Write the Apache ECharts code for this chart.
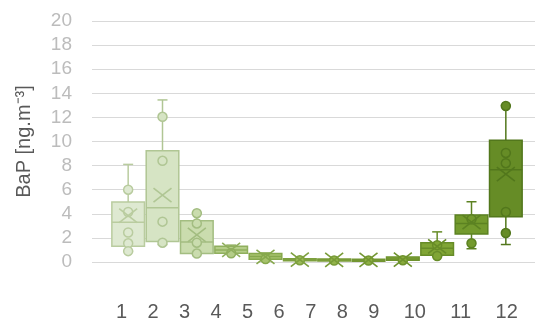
<!DOCTYPE html>
<html>
<head>
<meta charset="utf-8">
<script src="https://cdn.jsdelivr.net/npm/echarts@6/dist/echarts.min.js"></script>
<style>html,body{margin:0;padding:0;background:#fff}#c{width:535px;height:320px}</style>
</head>
<body>
<div id="c"></div>
<script>
const months = ['1','2','3','4','5','6','7','8','9','10','11','12'];
const whiskerLow  = [0.9, 1.45, 0.65, 0.7, 0.2, 0.1, 0.08, 0.08, 0.1, 0.5, 1.1, 1.45];
const q1          = [1.3, 1.7, 0.7, 0.72, 0.22, 0.12, 0.12, 0.1, 0.15, 0.55, 2.32, 3.75];
const median      = [3.3, 4.5, 1.65, 1.0, 0.45, 0.2, 0.18, 0.15, 0.25, 1.15, 3.2, 7.65];
const q3          = [4.98, 9.24, 3.42, 1.3, 0.7, 0.28, 0.25, 0.22, 0.42, 1.6, 3.9, 10.1];
const whiskerHigh = [8.1, 13.45, 4.05, 1.4, 0.75, 0.3, 0.28, 0.25, 0.45, 2.5, 5.0, 13.0];
const means       = [3.85, 5.55, 2.25, 1.0, 0.42, 0.2, 0.18, 0.17, 0.2, 1.3, 3.3, 7.3];
const points = [
  [6.0, 4.15, 2.45, 1.55, 0.9],
  [12.05, 8.4, 3.35, 1.6],
  [4.05, 3.2, 1.6, 0.7],
  [0.72],
  [0.25],
  [0.15],
  [0.12],
  [0.12],
  [0.15],
  [0.5, 1.4],
  [1.55, 3.55],
  [12.95, 9.05, 8.2, 4.15, 2.4]
];
const yTicks = {min: 0, max: 20, interval: 2};

const fills   = ['#dee9d1','#d6e4c4','#cadcae','#b4cd88','#a6c26c','#9bba58','#93b44b','#8daf43','#88ab3c','#80a535','#739a2d','#668c26'];
const borders = ['#b9cc9f','#b0c694','#a3bd81','#90af5e','#86a84c','#7ea03f','#789b37','#739632','#6e922d','#678c28','#5c8222','#52771c'];

function makeBox(k) {
  return function (params, api) {
    const i = api.value(0);
    const lo = api.coord([i, api.value(1)]);
    const a = api.coord([i, api.value(2)]);
    const md = api.coord([i, api.value(3)]);
    const b = api.coord([i, api.value(4)]);
    const hi = api.coord([i, api.value(5)]);
    const bw = api.size([1, 0])[0] * 0.95;
    const cx = lo[0];
    const ls = {stroke: borders[k], lineWidth: 1.5, fill: null};
    return {
      type: 'group',
      children: [
        {type: 'line', shape: {x1: cx, y1: hi[1], x2: cx, y2: b[1]}, style: ls},
        {type: 'line', shape: {x1: cx, y1: a[1], x2: cx, y2: lo[1]}, style: ls},
        {type: 'line', shape: {x1: cx - 5, y1: hi[1], x2: cx + 5, y2: hi[1]}, style: ls},
        {type: 'line', shape: {x1: cx - 5, y1: lo[1], x2: cx + 5, y2: lo[1]}, style: ls},
        {type: 'rect', shape: {x: cx - bw / 2, y: b[1], width: bw, height: Math.max(a[1] - b[1], 2)},
          style: {fill: fills[k], stroke: borders[k], lineWidth: 1.5}},
        {type: 'line', shape: {x1: cx - bw / 2, y1: md[1], x2: cx + bw / 2, y2: md[1]}, style: ls}
      ]
    };
  };
}
function makeMean(k) {
  return function (params, api) {
    const p = api.coord([api.value(0), api.value(1)]);
    const ls = {stroke: borders[k], lineWidth: 1.6, fill: null};
    return {
      type: 'group',
      children: [
        {type: 'line', shape: {x1: p[0] - 9, y1: p[1] - 7, x2: p[0] + 9, y2: p[1] + 7}, style: ls},
        {type: 'line', shape: {x1: p[0] - 9, y1: p[1] + 7, x2: p[0] + 9, y2: p[1] - 7}, style: ls}
      ]
    };
  };
}

const series = [];
months.forEach((m, k) => {
  series.push({
    name: m, type: 'custom', xAxisIndex: 1, yAxisIndex: 1,
    renderItem: makeBox(k),
    encode: {x: 0, y: [1, 2, 3, 4, 5]},
    itemStyle: {color: fills[k]},
    data: [[k, whiskerLow[k], q1[k], median[k], q3[k], whiskerHigh[k]]],
    z: 2
  });
  series.push({
    name: m, type: 'scatter', xAxisIndex: 1, yAxisIndex: 1,
    symbol: 'circle', symbolSize: 9,
    itemStyle: {color: fills[k], borderColor: borders[k], borderWidth: 1.5, opacity: 1},
    data: points[k].map(v => [k, v]),
    z: 3
  });
  series.push({
    name: m, type: 'custom', xAxisIndex: 1, yAxisIndex: 1,
    renderItem: makeMean(k),
    encode: {x: 0, y: 1},
    itemStyle: {color: fills[k]},
    data: [[k, means[k]]],
    z: 4
  });
});

const chart = echarts.init(document.getElementById('c'), null, {renderer: 'canvas'});
chart.setOption({
  animation: false,
  grid: [
    {left: 92, right: 0, top: 21, bottom: 58},
    {left: 111, right: 12, top: 21, bottom: 58}
  ],
  xAxis: [
    {gridIndex: 0, type: 'value', show: false, min: 0, max: 1},
    {gridIndex: 1, type: 'category', data: months, boundaryGap: true,
      axisLine: {show: false}, axisTick: {show: false}, axisLabel: {show: false}, splitLine: {show: false}}
  ],
  yAxis: [
    {gridIndex: 0, type: 'value', min: yTicks.min, max: yTicks.max, interval: yTicks.interval,
      axisLine: {show: false}, axisTick: {show: false},
      axisLabel: {color: '#bcbcbc', fontSize: 19, fontFamily: 'Liberation Sans, Arial, sans-serif', margin: 20},
      splitLine: {lineStyle: {color: '#d9d9d9', width: 1.2}},
      name: 'BaP [ng.m⁻³]', nameLocation: 'middle', nameRotate: 90, nameGap: 58,
      nameTextStyle: {color: '#595959', fontSize: 20, fontFamily: 'Liberation Sans, Arial, sans-serif'}},
    {gridIndex: 1, type: 'value', min: yTicks.min, max: yTicks.max, interval: yTicks.interval, show: false,
      splitLine: {show: false}}
  ],
  legend: {
    left: 106, top: 297, itemWidth: 0, itemHeight: 0, itemGap: 15.4, selectedMode: false,
    itemStyle: {opacity: 0}, lineStyle: {opacity: 0},
    textStyle: {color: '#595959', fontSize: 20, fontFamily: 'Liberation Sans, Arial, sans-serif'},
    data: months.map((m, k) => k >= 9 ? {name: m, textStyle: {padding: [0, 0, 0, 4]}} : {name: m})
  },
  series: series
});
</script>
</body>
</html>
